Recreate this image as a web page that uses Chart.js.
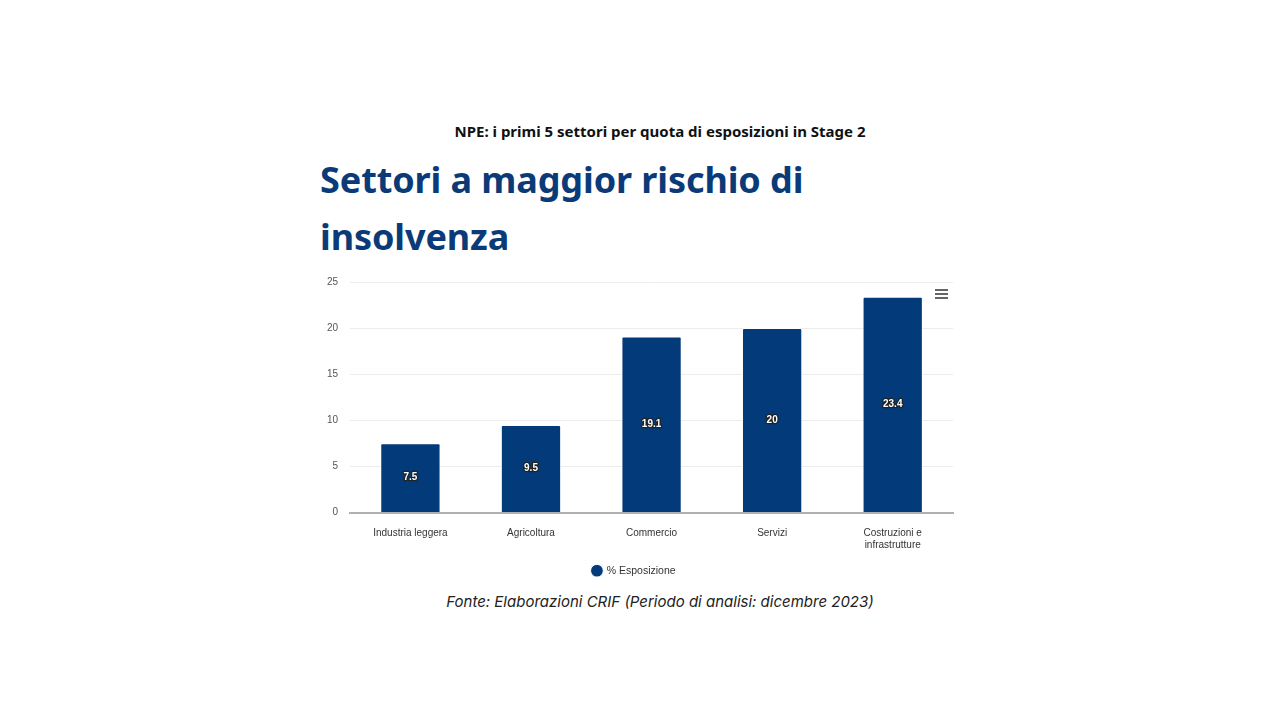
<!DOCTYPE html>
<html lang="it">
<head>
<meta charset="utf-8">
<title>Settori a maggior rischio di insolvenza</title>
<script src="https://cdn.jsdelivr.net/npm/chart.js@4.4.1/dist/chart.umd.min.js"></script>
<style>
  html, body { margin: 0; padding: 0; background: #fff; }
  body { width: 1280px; height: 720px; position: relative; overflow: hidden; font-family: "Liberation Sans", Arial, sans-serif; }
  #kicker { position: absolute; left: 0; width: 1320px; top: 121px; text-align: center; font: bold 15px "Noto Sans", sans-serif; color: #111; }
  #heading { position: absolute; left: 320px; top: 151px; width: 520px; font: bold 36px/57px "Noto Sans", sans-serif; color: #0a3a78; letter-spacing: -0.1px; margin: 0; }
  #wrap { position: absolute; left: 315px; top: 264px; width: 650px; height: 322px; }
  #menu { position: absolute; left: 935px; top: 289px; width: 13px; }
  #menu span { display: block; height: 2px; background: #666; margin-bottom: 2px; }
  #source { position: absolute; left: 0; width: 1320px; top: 592px; text-align: center; font: italic 15px "Inter", sans-serif; color: #222; }
</style>
</head>
<body>
<div id="kicker">NPE: i primi 5 settori per quota di esposizioni in Stage 2</div>
<h1 id="heading">Settori a maggior rischio di insolvenza</h1>
<div id="wrap"><canvas id="chart"></canvas></div>
<div id="menu"><span></span><span></span><span></span></div>
<div id="source">Fonte: Elaborazioni CRIF (Periodo di analisi: dicembre 2023)</div>
<script>
// Categories and values
const sectors = ['Industria leggera', 'Agricoltura', 'Commercio', 'Servizi', ['Costruzioni e', 'infrastrutture']];
const exposure = [7.5, 9.5, 19.1, 20, 23.4];
const yTicks = [0, 5, 10, 15, 20, 25];

// white labels with dark outline in the middle of each bar
const barLabels = {
    id: 'barLabels',
    afterDatasetsDraw(chart) {
        const ctx = chart.ctx;
        const meta = chart.getDatasetMeta(0);
        ctx.save();
        ctx.font = 'bold 10px "Liberation Sans", Arial, sans-serif';
        ctx.textAlign = 'center';
        ctx.textBaseline = 'middle';
        ctx.lineJoin = 'round';
        meta.data.forEach((bar, i) => {
            const y = (bar.y + bar.base) / 2;
            ctx.lineWidth = 2.5;
            ctx.strokeStyle = '#222';
            ctx.strokeText(exposure[i], bar.x, y);
            ctx.fillStyle = '#fff';
            ctx.fillText(exposure[i], bar.x, y);
        });
        ctx.restore();
    }
};

const ctx = document.getElementById('chart').getContext('2d');

const chart = new Chart(ctx, {
    type: 'bar',
    data: {
        labels: sectors,
        datasets: [{
            label: '% Esposizione',
            data: exposure,
            backgroundColor: '#023a7a',
            borderColor: '#ffffff',
            borderWidth: 1,
            borderRadius: 2,
            borderSkipped: 'bottom',
            barPercentage: 0.5,
            categoryPercentage: 1.0
        }]
    },
    options: {
        responsive: true,
        maintainAspectRatio: false,
        animation: false,
        layout: { padding: { top: 0, right: 12, left: 0, bottom: 0 } },
        plugins: {
            legend: {
                position: 'bottom',
                labels: {
                    usePointStyle: true,
                    pointStyle: 'circle',
                    boxWidth: 9,
                    boxHeight: 9,
                    color: '#333',
                    font: { size: 10.5, family: '"Liberation Sans", Arial, sans-serif' },
                    padding: 7
                }
            },
            tooltip: { enabled: false }
        },
        scales: {
            x: {
                grid: { display: false },
                border: { color: '#b0b0b0', width: 2 },
                ticks: {
                    color: '#333',
                    padding: 7,
                    maxRotation: 0,
                    font: { size: 10, family: '"Liberation Sans", Arial, sans-serif' }
                }
            },
            y: {
                min: 0,
                max: 25,
                afterBuildTicks: axis => { axis.ticks = yTicks.map(v => ({ value: v })); },
                grid: { color: '#ececec', drawTicks: false },
                border: { display: false },
                ticks: {
                    color: '#555',
                    padding: 12,
                    font: { size: 10, family: '"Liberation Sans", Arial, sans-serif' }
                }
            }
        }
    },
    plugins: [barLabels]
});
</script>
</body>
</html>
